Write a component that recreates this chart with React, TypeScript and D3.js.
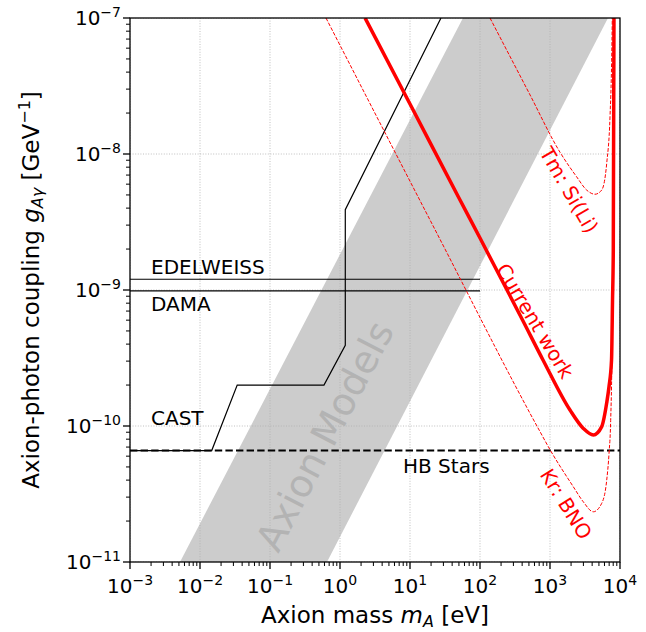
import React from 'react';
import * as d3 from 'd3';

// ---------- data ----------
const xTickExps = [-3, -2, -1, 0, 1, 2, 3, 4];
const yTickExps = [-11, -10, -9, -8, -7];

// Axion models band (edges in m [eV], g [GeV^-1])
const bandLeftM = [5.18e-3, 57.1];
const bandLeftG = [1e-11, 1e-7];
const bandRightM = [0.652, 6740];
const bandRightG = [1e-11, 1e-7];

const castM = [1e-3, 0.0147, 0.034, 0.59, 1.19, 1.19, 27.7];
const castG = [6.6e-11, 6.6e-11, 2.0e-10, 2.0e-10, 3.92e-10, 3.9e-9, 1e-7];

const edelweissM = [1e-3, 100];
const edelweissG = [1.2e-9, 1.2e-9];
const damaM = [1e-3, 100];
const damaG = [0.985e-9, 0.985e-9];
const hbM = [1e-3, 1e4];
const hbG = [6.6e-11, 6.6e-11];

const currentM = [2.28, 10, 49, 100, 400, 794, 1930, 2990, 4160, 5480, 6460, 6970, 7570, 7820, 8020, 8200];
const currentG = [1e-7, 2.33e-8, 4.85e-9, 2.41e-9, 6.1e-10, 3.06e-10, 1.31e-10, 9.6e-11, 8.6e-11, 9.9e-11, 1.48e-10, 1.95e-10, 3.06e-10, 8.4e-10, 1.97e-9, 1e-7];

const tmM = [139, 500, 1390, 2400, 3340, 4390, 5480, 6460, 7200, 7600, 7760];
const tmG = [1e-7, 2.82e-8, 1.03e-8, 6.8e-9, 5.43e-9, 5.06e-9, 5.43e-9, 8.55e-9, 1.88e-8, 4.9e-8, 1e-7];

const krM = [0.631, 22.2, 719, 1000, 2150, 2990, 4160, 5480, 6460, 6970, 7360, 7700, 8100];
const krG = [1e-7, 2.85e-9, 9.1e-11, 6.7e-11, 3.58e-11, 2.77e-11, 2.34e-11, 2.7e-11, 4.0e-11, 6.3e-11, 1.1e-10, 4e-10, 1e-7];

// ---------- layout ----------
const W = 646, H = 632;
const L = 130, R = 620, T = 18, B = 562;
const FONT = 'DejaVu Sans';

const x = d3.scaleLog().domain([1e-3, 1e4]).range([L, R]);
const y = d3.scaleLog().domain([1e-11, 1e-7]).range([B, T]);

const zip = (ms: number[], gs: number[]) => ms.map((m, i) => [m, gs[i]] as [number, number]);
const lineGen = d3.line<[number, number]>().x(d => x(d[0])).y(d => y(d[1]));
const curveGen = d3.line<[number, number]>().x(d => x(d[0])).y(d => y(d[1])).curve(d3.curveMonotoneX);

function Pow({ px, py, e, anchor }: { px: number; py: number; e: number; anchor: string }) {
  const s = e < 0 ? `\u2212${Math.abs(e)}` : `${e}`;
  return (
    <text x={px} y={py} textAnchor={anchor} fontSize={20} fontFamily={FONT} fill="#000">
      10<tspan dy={-8} fontSize={14}>{s}</tspan>
    </text>
  );
}

export default function App() {
  const minorX: number[] = [];
  for (let e = -3; e < 4; e++) for (let k = 2; k <= 9; k++) minorX.push(k * Math.pow(10, e));
  const minorY: number[] = [];
  for (let e = -11; e < -7; e++) for (let k = 2; k <= 9; k++) minorY.push(k * Math.pow(10, e));

  const band = [
    ...zip(bandLeftM, bandLeftG),
    ...zip(bandRightM, bandRightG).reverse(),
  ];
  const bandPath = lineGen(band) + 'Z';

  return (
    <svg width={W} height={H} style={{ position: 'absolute', left: 0, top: 0, background: '#fff' }}>
      <defs>
        <clipPath id="plotclip">
          <rect x={L} y={T} width={R - L} height={B - T} />
        </clipPath>
      </defs>
      <rect x={0} y={0} width={W} height={H} fill="#fff" />
      <g clipPath="url(#plotclip)">
        <path d={bandPath} fill="#cccccc" stroke="none" />
        {/* grid */}
        {xTickExps.map(e => (
          <line key={'gx' + e} x1={x(Math.pow(10, e))} x2={x(Math.pow(10, e))} y1={T} y2={B}
            stroke="#b0b0b0" strokeWidth={0.8} strokeDasharray="1,1.6" />
        ))}
        {yTickExps.map(e => (
          <line key={'gy' + e} x1={L} x2={R} y1={y(Math.pow(10, e))} y2={y(Math.pow(10, e))}
            stroke="#b0b0b0" strokeWidth={0.8} strokeDasharray="1,1.6" />
        ))}
        <text transform={`translate(325,436) rotate(-62.5)`} textAnchor="middle" dominantBaseline="central"
          fontSize={38} fontFamily={FONT} fill="#b3b3b3">Axion Models</text>
        {/* black limits */}
        <path d={lineGen(zip(castM, castG)) || ''} fill="none" stroke="#000" strokeWidth={1.2} />
        <path d={lineGen(zip(edelweissM, edelweissG)) || ''} fill="none" stroke="#000" strokeWidth={1.2} />
        <path d={lineGen(zip(damaM, damaG)) || ''} fill="none" stroke="#000" strokeWidth={1.2} />
        <path d={lineGen(zip(hbM, hbG)) || ''} fill="none" stroke="#000" strokeWidth={2} strokeDasharray="7.4,3.2" />
        {/* red curves */}
        <path d={curveGen(zip(tmM, tmG)) || ''} fill="none" stroke="#ff0000" strokeWidth={1} strokeDasharray="3.7,1.6" />
        <path d={curveGen(zip(krM, krG)) || ''} fill="none" stroke="#ff0000" strokeWidth={1} strokeDasharray="3.7,1.6" />
        <path d={curveGen(zip(currentM, currentG)) || ''} fill="none" stroke="#ff0000" strokeWidth={3.5} strokeLinejoin="round" />
      </g>

      {/* labels in plot */}
      <text x={151} y={274} fontSize={20} fontFamily={FONT}>EDELWEISS</text>
      <text x={151} y={311} fontSize={20} fontFamily={FONT}>DAMA</text>
      <text x={151} y={425} fontSize={20} fontFamily={FONT}>CAST</text>
      <text x={403} y={472.5} fontSize={20} fontFamily={FONT}>HB Stars</text>
      <text transform="translate(569,190) rotate(60)" textAnchor="middle" dominantBaseline="central"
        fontSize={20} fontFamily={FONT} fill="#ff0000">Tm: Si(Li)</text>
      <text transform="translate(535,321) rotate(59)" textAnchor="middle" dominantBaseline="central"
        fontSize={20} fontFamily={FONT} fill="#ff0000">Current work</text>
      <text transform="translate(566,504) rotate(58)" textAnchor="middle" dominantBaseline="central"
        fontSize={20} fontFamily={FONT} fill="#ff0000">Kr: BNO</text>

      {/* frame */}
      <rect x={L} y={T} width={R - L} height={B - T} fill="none" stroke="#000" strokeWidth={1.3} />

      {/* ticks */}
      {minorX.map((v, i) => (
        <line key={'mx' + i} x1={x(v)} x2={x(v)} y1={B} y2={B + 4} stroke="#000" strokeWidth={1} />
      ))}
      {xTickExps.map(e => (
        <line key={'tx' + e} x1={x(Math.pow(10, e))} x2={x(Math.pow(10, e))} y1={B} y2={B + 7} stroke="#000" strokeWidth={1.3} />
      ))}
      {minorY.map((v, i) => (
        <line key={'my' + i} x1={L - 4} x2={L} y1={y(v)} y2={y(v)} stroke="#000" strokeWidth={1} />
      ))}
      {yTickExps.map(e => (
        <line key={'ty' + e} x1={L - 7} x2={L} y1={y(Math.pow(10, e))} y2={y(Math.pow(10, e))} stroke="#000" strokeWidth={1.3} />
      ))}
      {xTickExps.map(e => (
        <Pow key={'lx' + e} px={x(Math.pow(10, e))} py={593} e={e} anchor="middle" />
      ))}
      {yTickExps.map(e => (
        <Pow key={'ly' + e} px={121} py={y(Math.pow(10, e)) + 7} e={e} anchor="end" />
      ))}

      {/* axis labels */}
      <text x={375} y={623} textAnchor="middle" fontSize={23} fontFamily={FONT}>
        Axion mass <tspan fontStyle="italic">m</tspan><tspan fontStyle="italic" fontSize={16} dy={4}>A</tspan><tspan dy={-4}> [eV]</tspan>
      </text>
      <text transform="translate(39,290) rotate(-90)" textAnchor="middle" fontSize={23} fontFamily={FONT}>
        Axion-photon coupling <tspan fontStyle="italic">g</tspan><tspan fontStyle="italic" fontSize={16} dy={4}>Aγ</tspan><tspan dy={-4}> [GeV</tspan><tspan fontSize={16} dy={-9}>−1</tspan><tspan dy={9}>]</tspan>
      </text>
    </svg>
  );
}
